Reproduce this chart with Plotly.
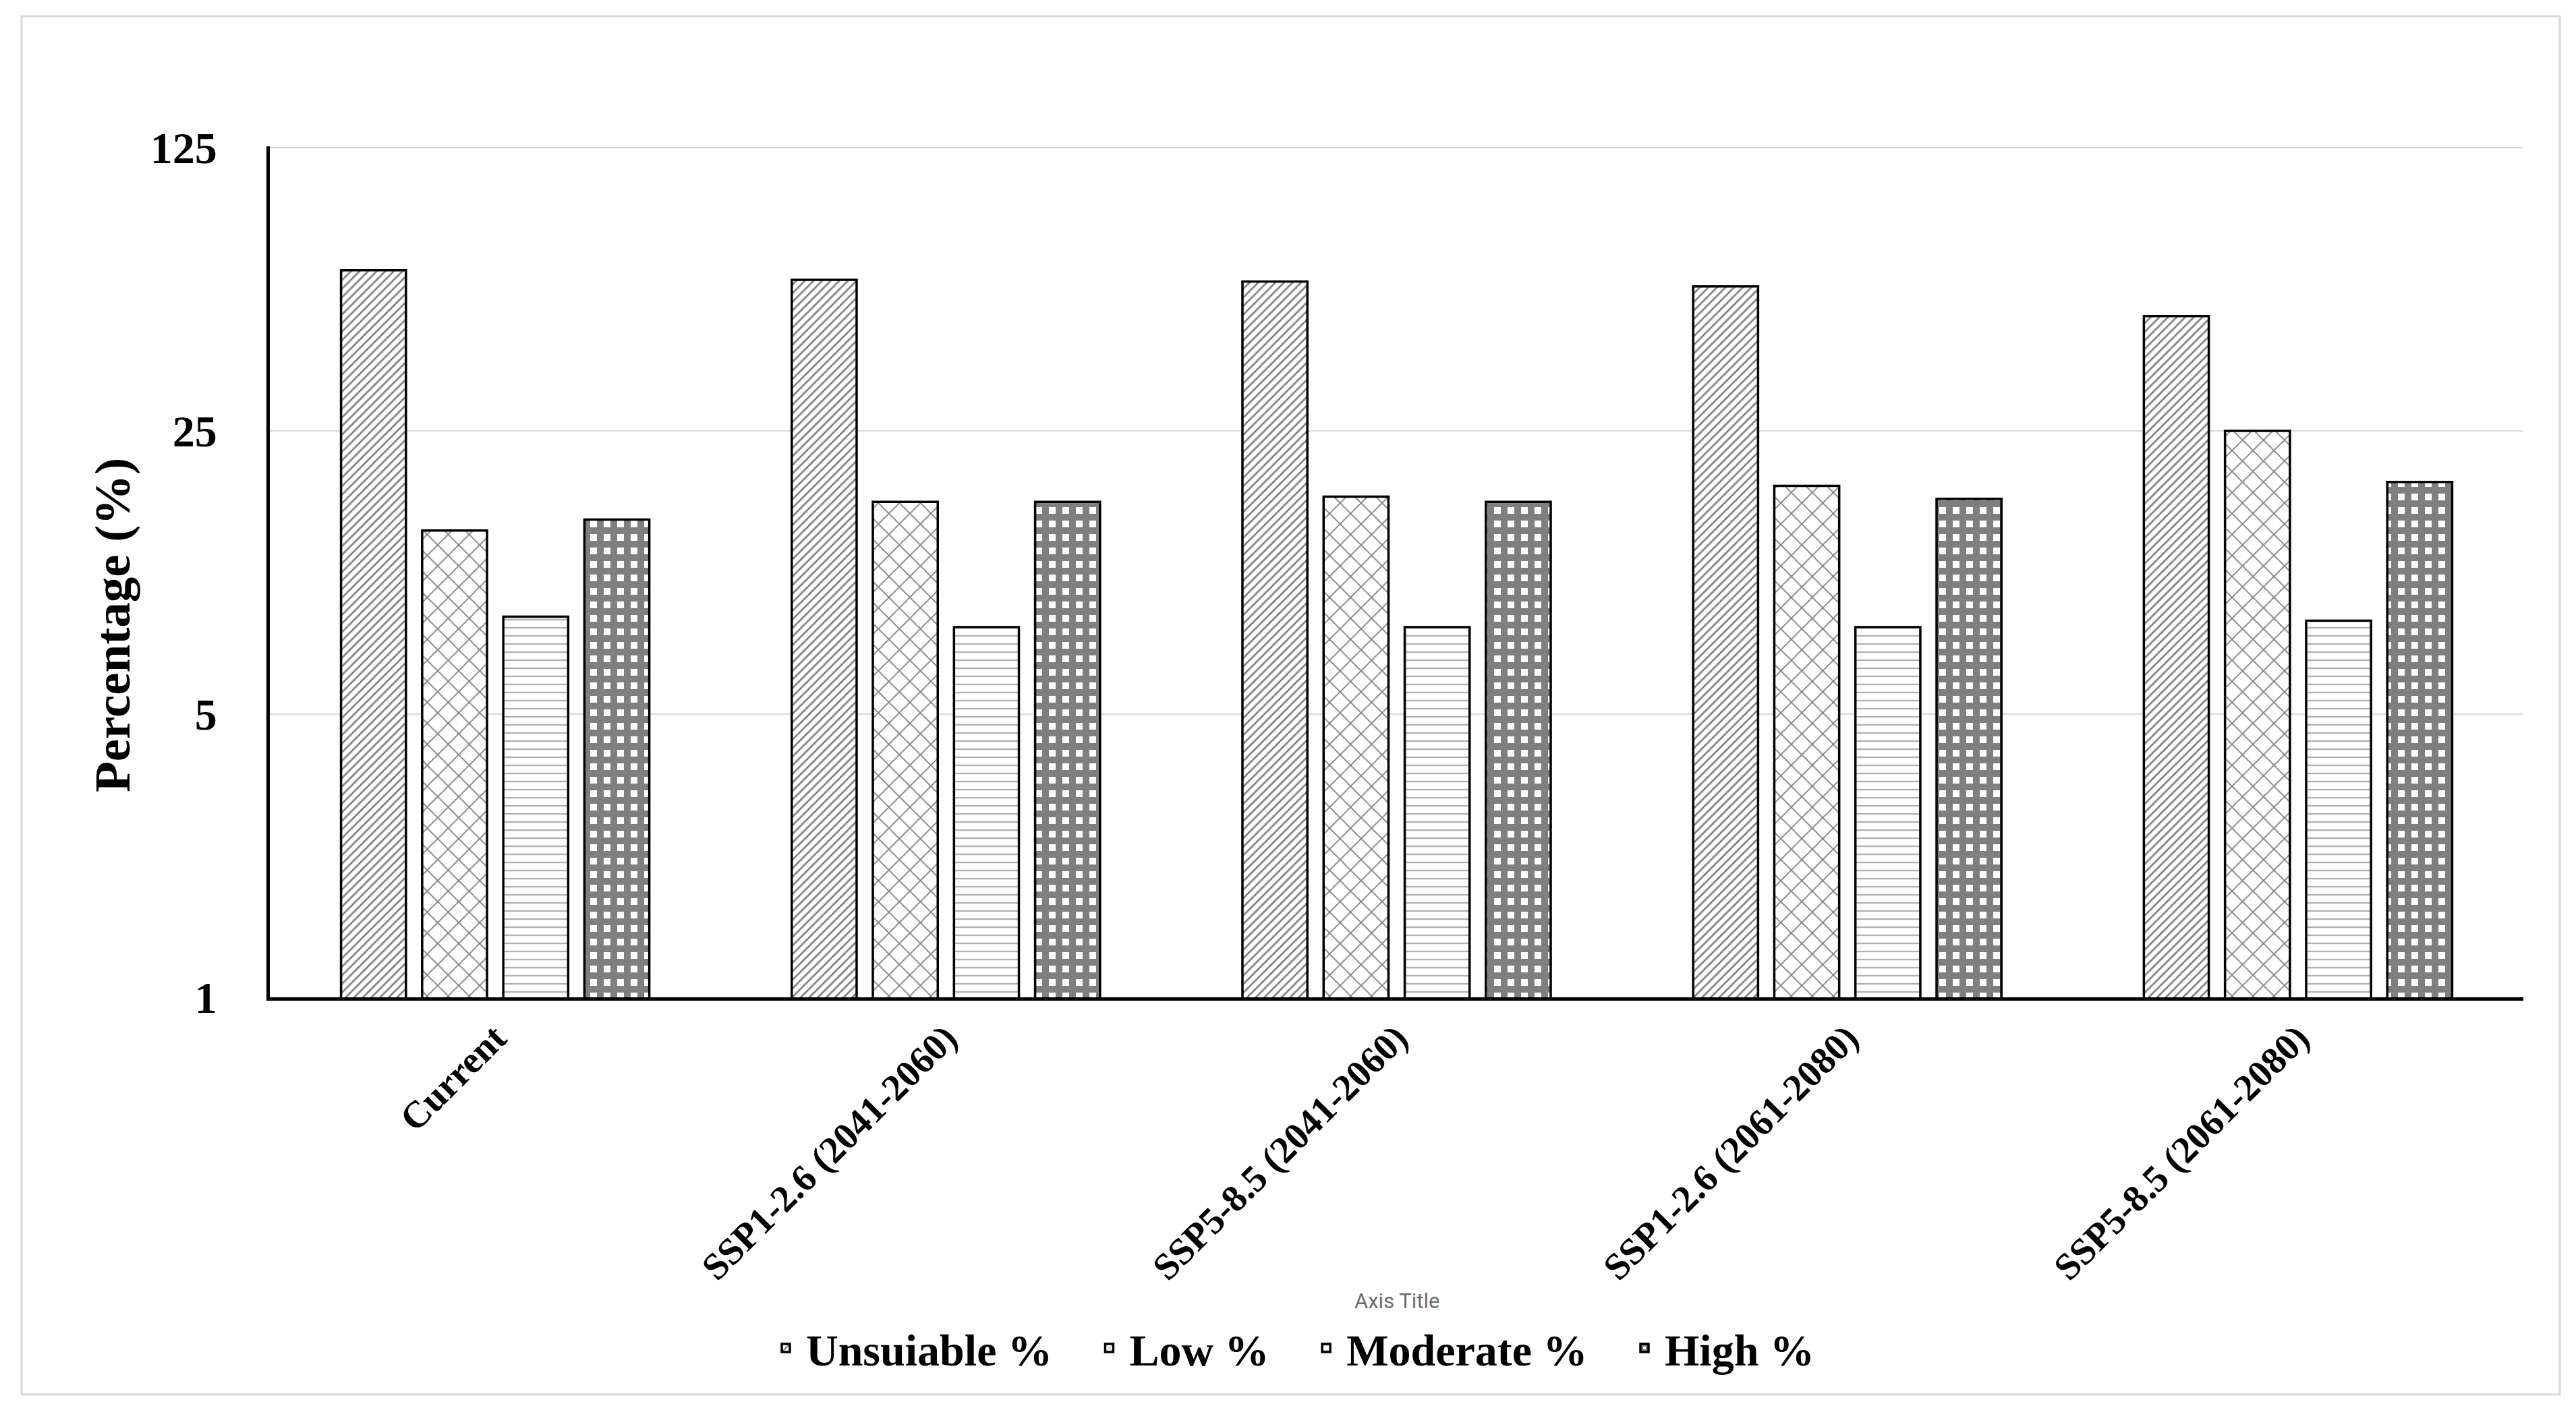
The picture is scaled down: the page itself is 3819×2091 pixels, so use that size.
import plotly.graph_objects as go

categories = ["Current", "SSP1-2.6 (2041-2060)", "SSP5-8.5 (2041-2060)",
              "SSP1-2.6 (2061-2080)", "SSP5-8.5 (2061-2080)"]
unsuitable = [62.3, 59.0, 58.4, 56.8, 48.0]
low = [14.2, 16.7, 17.2, 18.3, 25.0]
moderate = [8.7, 8.2, 8.2, 8.2, 8.5]
high = [15.1, 16.7, 16.7, 17.0, 18.7]

y_ticks = [1, 5, 25, 125]

W, H = 3819, 2091
L, R, T, B = 400, 78, 217, 612
pw, ph = W - L - R, H - T - B

serif = "Liberation Serif"
pad = "\u00a0" * 3  # extra room between legend entries

fig = go.Figure()

series = [
    ("Unsuiable %" + pad, unsuitable, dict(shape="/", size=9, solidity=0.3, fgcolor="black")),
    ("Low %" + pad, low, dict(shape="x", size=22, solidity=0.16, fgcolor="black")),
    ("Moderate %" + pad, moderate, dict(shape="-", size=12, solidity=0.2, fgcolor="#666666")),
    ("High %", high, dict(shape="+", size=20, solidity=0.75, fgcolor="black")),
]

for name, vals, pat in series:
    fig.add_trace(go.Bar(
        x=categories, y=vals, name=name,
        marker=dict(color="white", pattern=pat,
                    line=dict(color="black", width=3.5)),
    ))

fig.update_layout(
    width=W, height=H,
    margin=dict(l=L, r=R, t=T, b=B),
    paper_bgcolor="white", plot_bgcolor="white",
    barmode="group", bargap=0.28, bargroupgap=0.2,
    font=dict(family=serif, color="black"),
    legend=dict(orientation="h", x=(1915 - L) / pw, xanchor="center",
                y=(T + ph - 1999) / ph, yanchor="middle",
                font=dict(family=serif, size=66, weight="bold"),
                itemwidth=50, traceorder="normal"),
)

fig.update_xaxes(
    showline=True, linecolor="black", linewidth=5,
    tickangle=-45, tickfont=dict(family=serif, size=56, weight="bold"),
    showgrid=False, ticks="", ticklabelstandoff=0,
)

# top slightly above 125 so its gridline is kept
fig.update_yaxes(
    type="log", range=[0, 2.1003],
    tickvals=y_ticks, ticktext=[str(v) for v in y_ticks],
    tickfont=dict(family=serif, size=66, weight="bold"),
    showline=True, linecolor="black", linewidth=5,
    showgrid=True, gridcolor="#D9D9D9", gridwidth=2,
    ticks="", ticklabelstandoff=60, zeroline=False,
)

fig.add_annotation(
    text="Percentage (%)", textangle=-90,
    xref="paper", yref="paper", x=(166 - L) / pw, y=(T + ph - 927) / ph,
    xanchor="center", yanchor="middle", showarrow=False,
    font=dict(family=serif, size=75, weight="bold", color="black"),
)

fig.add_annotation(
    text="Axis Title",
    xref="paper", yref="paper", x=0.5, y=(T + ph - 1929) / ph,
    xanchor="center", yanchor="middle", showarrow=False,
    font=dict(family="Roboto", size=31, color="#6b6b6b"),
)

# light chart-area border
fig.add_shape(
    type="rect", xref="paper", yref="paper",
    x0=(32 - L) / pw, x1=(3795 - L) / pw,
    y0=(T + ph - 2068) / ph, y1=(T + ph - 24) / ph,
    line=dict(color="#D9D9D9", width=3), fillcolor="rgba(0,0,0,0)", layer="below",
)

fig.write_html("out.html", config={"displayModeBar": False},
               post_script="document.body.style.margin='0px';")
